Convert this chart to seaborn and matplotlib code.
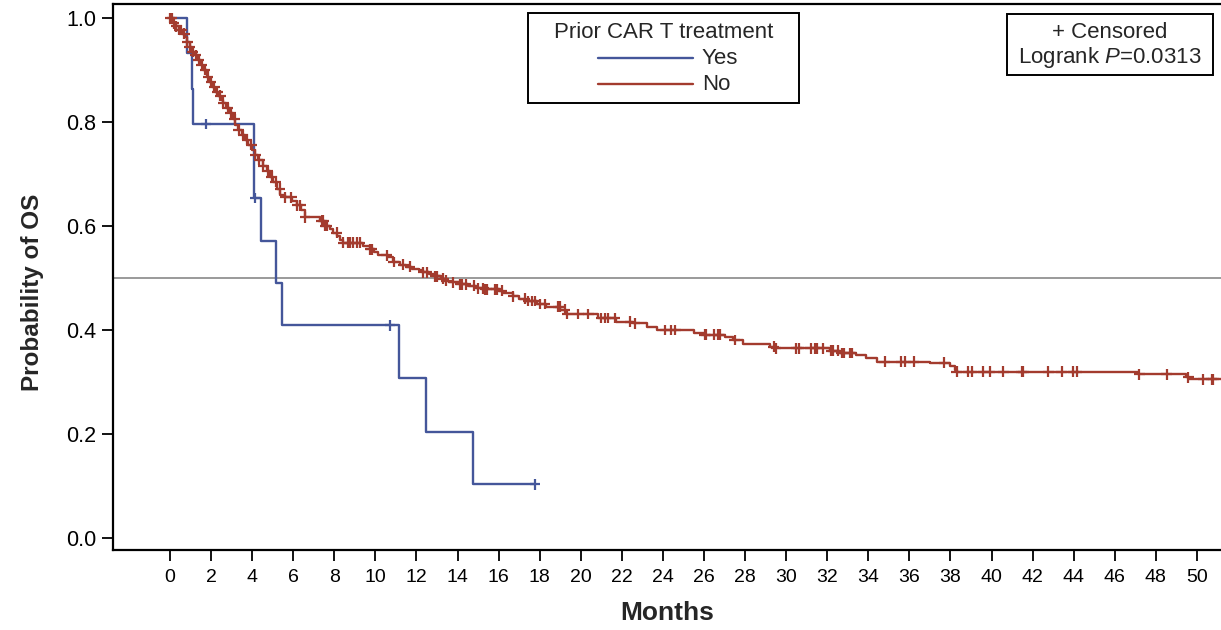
import numpy as np
import pandas as pd
import matplotlib
matplotlib.use("Agg")
import matplotlib.pyplot as plt
import seaborn as sns
from matplotlib.lines import Line2D
from matplotlib.patches import Rectangle

# ---------------- data ----------------
groups = ["Yes", "No"]
legend_title = "Prior CAR T treatment"

yes_event_t = [0.81, 1.05, 1.14, 4.11, 4.43, 5.17, 5.44, 11.15, 12.45, 14.74]
yes_surv = [0.932, 0.864, 0.796, 0.654, 0.572, 0.491, 0.409, 0.307, 0.204, 0.103]
yes_censor_t = [1.75, 4.14, 10.71, 17.77]
yes_end = 17.77

no_event_t = [0.15, 0.30, 0.45, 0.60, 0.73, 0.85, 0.95, 1.06, 1.20, 1.38, 1.50, 1.62,
              1.78, 1.90, 2.03, 2.20, 2.35, 2.48, 2.60, 2.75, 2.92, 3.05, 3.16, 3.32,
              3.49, 3.65, 3.81, 3.97, 4.14, 4.30, 4.54, 4.70, 4.87, 5.03, 5.20, 5.36,
              5.60, 5.95, 6.17, 6.40, 6.57, 7.30, 7.55, 7.80, 7.95, 8.15, 8.30, 8.44,
              9.40, 9.74, 9.95, 10.14, 10.60, 10.87, 11.20, 11.50, 11.80, 12.10, 12.30,
              12.60, 12.90, 13.20, 13.40, 13.60, 14.10, 14.50, 14.90, 15.30, 16.00,
              16.20, 16.70, 17.00, 17.30, 17.85, 18.30, 19.00, 19.30, 20.85, 21.70,
              22.55, 23.20, 23.70, 25.50, 26.00, 27.00, 27.40, 27.90, 29.20, 29.50,
              32.15, 32.60, 33.40, 33.90, 34.40, 37.00, 38.00, 38.20, 38.30, 47.15,
              49.45, 49.60]
no_surv = [0.990, 0.984, 0.977, 0.970, 0.963, 0.954, 0.945, 0.935, 0.928, 0.920, 0.910, 0.900,
           0.887, 0.877, 0.867, 0.858, 0.851, 0.843, 0.837, 0.827, 0.817, 0.806, 0.795, 0.785,
           0.775, 0.766, 0.756, 0.747, 0.737, 0.727, 0.715, 0.705, 0.695, 0.685, 0.672, 0.660,
           0.655, 0.648, 0.640, 0.631, 0.617, 0.610, 0.600, 0.594, 0.587, 0.580, 0.573, 0.568,
           0.562, 0.555, 0.550, 0.544, 0.540, 0.531, 0.526, 0.522, 0.518, 0.515, 0.511,
           0.507, 0.503, 0.499, 0.495, 0.492, 0.488, 0.485, 0.480, 0.478, 0.476,
           0.471, 0.465, 0.460, 0.456, 0.450, 0.445, 0.439, 0.431, 0.423, 0.416,
           0.413, 0.405, 0.400, 0.395, 0.391, 0.387, 0.381, 0.374, 0.368, 0.365,
           0.360, 0.356, 0.352, 0.346, 0.339, 0.337, 0.330, 0.324, 0.320, 0.315,
           0.309, 0.305]
no_censor_t = [0.0, 0.1, 0.2, 0.3, 0.45, 0.55, 0.7, 0.85, 0.95, 1.1, 1.25, 1.4, 1.55, 1.7,
               1.85, 2.0, 2.15, 2.3, 2.45, 2.6, 2.8, 2.95, 3.15, 3.35, 3.55, 3.75, 3.95,
               4.15, 4.35, 4.55, 4.75, 4.95, 5.15, 5.35, 5.6, 5.9, 6.2, 6.35, 6.57, 7.39,
               7.46, 7.55, 7.63, 8.12, 8.44, 8.68, 8.76, 8.92, 9.09, 9.25, 9.74, 9.82,
               10.55, 10.9, 11.36, 11.68, 12.33, 12.5, 12.9, 12.98, 13.3, 13.45, 13.8,
               14.12, 14.2, 14.4, 14.8, 15.0, 15.25, 15.34, 15.42, 15.82, 15.9, 16.15,
               16.7, 17.28, 17.44, 17.61, 17.77, 18.0, 18.26, 18.9, 18.99, 19.23, 19.34,
               19.88, 20.37, 21.0, 21.2, 21.34, 21.67, 22.4, 22.64, 24.1, 24.4, 24.6,
               26.03, 26.1, 26.5, 26.7, 26.8, 27.5, 29.4, 29.5, 30.5, 30.6, 31.2, 31.4,
               31.5, 31.8, 32.2, 32.3, 32.5, 32.7, 32.8, 33.1, 33.2, 34.8, 35.6, 35.8,
               36.2, 37.7, 38.3, 38.87, 39.03, 39.6, 39.9, 40.57, 41.47, 41.54, 42.76,
               43.41, 43.98, 44.14, 47.19, 48.52, 49.58, 50.3, 50.72, 50.8]
no_end = 51.3

x_ticks = list(range(0, 51, 2))
y_ticks = [0.0, 0.2, 0.4, 0.6, 0.8, 1.0]
x_label = "Months"
y_label = "Probability of OS"
p_value = "0.0313"

colors = {"Yes": "#44569A", "No": "#A33B2E"}

# ---------------- build tables ----------------
def step_table(name, ev_t, surv, end):
    t = [0.0] + list(ev_t) + [end]
    s = [1.0] + list(surv) + [surv[-1]]
    return pd.DataFrame({"Months": t, "Survival": s, "group": name})

def censor_table(name, ev_t, surv, cens):
    ev_t = np.asarray(ev_t)
    s_all = np.concatenate([[1.0], surv])
    idx = np.searchsorted(ev_t, np.asarray(cens), side="right")
    return pd.DataFrame({"Months": cens, "Survival": s_all[idx], "group": name})

curves = pd.concat([step_table("Yes", yes_event_t, yes_surv, yes_end),
                    step_table("No", no_event_t, no_surv, no_end)], ignore_index=True)
cens = pd.concat([censor_table("Yes", yes_event_t, yes_surv, yes_censor_t),
                  censor_table("No", no_event_t, no_surv, no_censor_t)], ignore_index=True)

# ---------------- plot ----------------
sns.set_style("ticks")
plt.rcParams["font.family"] = ["Liberation Sans", "DejaVu Sans"]
plt.rcParams["mathtext.fontset"] = "custom"
plt.rcParams["mathtext.rm"] = "Liberation Sans"
plt.rcParams["mathtext.it"] = "Liberation Sans:italic"

W, H = 1221, 630
fig = plt.figure(figsize=(W / 100, H / 100), dpi=100)
ax = fig.add_axes([113 / W, 1 - 550 / H, (W - 113) / W, (550 - 4) / H])

ax.axhline(0.5, color="#9a9a9a", lw=1.4, zorder=1)

sns.lineplot(data=curves, x="Months", y="Survival", hue="group", hue_order=groups,
             palette=colors, estimator=None, sort=False, drawstyle="steps-post",
             lw=1.7, legend=False, ax=ax, zorder=3)
sns.scatterplot(data=cens, x="Months", y="Survival", hue="group", hue_order=groups,
                palette=colors, marker="+", s=60, linewidth=1.6, legend=False,
                ax=ax, zorder=4)

ax.set_xlim(-2.775, 51.17)
ax.set_ylim(-0.023, 1.027)
ax.set_xticks(x_ticks)
ax.set_yticks(y_ticks)
ax.set_xticklabels([str(v) for v in x_ticks], fontsize=14)
ax.set_yticklabels([f"{v:.1f}" for v in y_ticks], fontsize=15.5)
ax.tick_params(axis="both", direction="out", length=8, width=1.3, color="black",
               labelcolor="black")
ax.tick_params(axis="x", pad=6)
ax.tick_params(axis="y", pad=4)
for sp in ["left", "bottom", "top"]:
    ax.spines[sp].set_visible(True)
    ax.spines[sp].set_color("black")
    ax.spines[sp].set_linewidth(1.6)
ax.spines["right"].set_visible(False)

ax.set_xlabel(x_label, fontsize=19, fontweight="bold")
ax.set_ylabel(y_label, fontsize=17.5, fontweight="bold")
ax.xaxis.set_label_coords((667 - 113) / (W - 113), (550 - 601) / 546)
ax.xaxis.label.set_va("top")
ax.yaxis.set_label_coords((44 - 113) / (W - 113), (550 - 292) / 546)

# ---------------- legend box (manual, in figure pixels) ----------------
def fx(px):
    return px / W

def fy(py):
    return 1 - py / H

fig.patches.append(Rectangle((fx(528), fy(103)), fx(799) - fx(528), fy(13) - fy(103),
                             transform=fig.transFigure, fill=True, facecolor="white",
                             edgecolor="black", lw=1.4, zorder=5))
fig.text(fx(664), fy(32), legend_title, ha="center", va="center", fontsize=16, zorder=6)
for name, yy in zip(groups, [58, 84]):
    fig.lines.append(Line2D([fx(598), fx(693)], [fy(yy), fy(yy)], transform=fig.transFigure,
                            color=colors[name], lw=1.7, zorder=6))
    fig.text(fx(702), fy(yy), name, ha="left", va="center", fontsize=16, zorder=6)

# ---------------- censored / logrank box ----------------
fig.patches.append(Rectangle((fx(1007), fy(75)), fx(1213) - fx(1007), fy(14) - fy(75),
                             transform=fig.transFigure, fill=True, facecolor="white",
                             edgecolor="black", lw=1.4, zorder=5))
fig.text(fx(1110), fy(32), "+ Censored", ha="center", va="center", fontsize=16, zorder=6)
fig.text(fx(1110), fy(58), "Logrank $\\mathit{P}$=" + p_value, ha="center", va="center",
         fontsize=16, zorder=6)

fig.savefig("out.png", dpi=100)
